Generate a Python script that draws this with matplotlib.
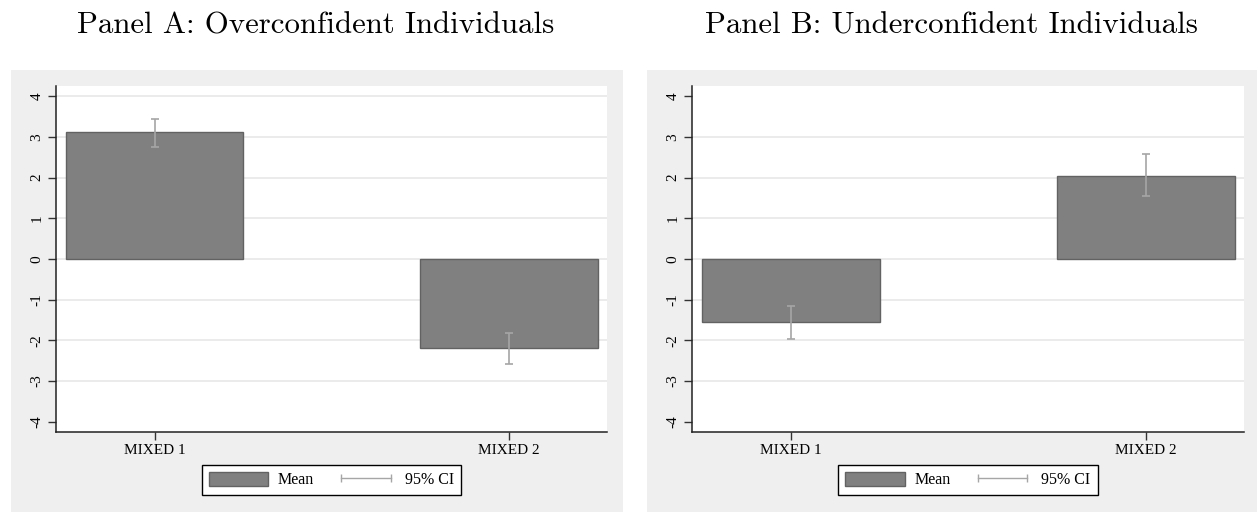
import matplotlib
matplotlib.use("Agg")
import matplotlib.pyplot as plt
from matplotlib.patches import Rectangle, Patch
from matplotlib.lines import Line2D

# data
groups = ["MIXED 1", "MIXED 2"]
means_a = [3.11, -2.19]
ci_low_a = [2.76, -2.58]
ci_high_a = [3.44, -1.81]
means_b = [-1.55, 2.04]
ci_low_b = [-1.97, 1.55]
ci_high_b = [-1.15, 2.57]
yticks = [-4, -3, -2, -1, 0, 1, 2, 3, 4]
titles = ["Panel A: Overconfident Individuals", "Panel B: Underconfident Individuals"]

W, H = 1257, 512
fig = plt.figure(figsize=(W / 100, H / 100), dpi=100)
bg = "#efefef"

# gray panel backgrounds
fig.patches.append(Rectangle((11 / W, 0), 612 / W, 442 / H, transform=fig.transFigure,
                             facecolor=bg, edgecolor="none", zorder=-5))
fig.patches.append(Rectangle((647 / W, 0), 610 / W, 442 / H, transform=fig.transFigure,
                             facecolor=bg, edgecolor="none", zorder=-5))

panels = [
    (56, 551, means_a, ci_low_a, ci_high_a, titles[0], 316, [-3, -2, -1, 0, 1, 2, 3, 4]),
    (692, 552, means_b, ci_low_b, ci_high_b, titles[1], 951, [-3, -2, -1, 0, 1, 2, 3]),
]

for left, width, means, lo, hi, title, tx, grid_at in panels:
    ax = fig.add_axes([left / W, 80 / H, width / W, 346 / H])
    ax.set_facecolor("white")
    x = [1, 2]
    ax.bar(x, means, width=0.5, color="#808080", edgecolor="#626262", linewidth=1.0, zorder=3)
    err = [[m - l for m, l in zip(means, lo)], [h - m for m, h in zip(means, hi)]]
    ax.errorbar(x, means, yerr=err, fmt="none", ecolor="#a6a6a6", elinewidth=1.2,
                capsize=2.6, capthick=1.2, zorder=4)
    for g in grid_at:
        ax.axhline(g, color="#e8e8e8", linewidth=1.2, zorder=1)
    ax.set_xlim(1 - 0.278, 2 + 0.276)
    ax.set_ylim(-4.25, 4.25)
    ax.set_yticks(yticks)
    ax.set_yticklabels([str(t) for t in yticks], rotation=90, va="center",
                       fontfamily="Liberation Serif", fontsize=11)
    ax.set_xticks(x)
    ax.set_xticklabels(groups, fontfamily="Liberation Serif", fontsize=11)
    ax.tick_params(length=6, width=1, color="#333333", pad=3)
    for s in ["top", "right"]:
        ax.spines[s].set_visible(False)
    for s in ["left", "bottom"]:
        ax.spines[s].set_color("#222222")
        ax.spines[s].set_linewidth(1.1)

    fig.text(tx / W, 1 - 33 / H, title, ha="center", va="baseline",
             fontfamily="cmr10", fontsize=22.2)

    handles = [Patch(facecolor="#808080", edgecolor="#626262"),
               Line2D([0], [0], color="#a6a6a6", linewidth=1.0, marker="|",
                      markersize=6, markeredgewidth=1.0)]
    leg = fig.legend(handles, ["Mean", "95% CI"], loc="center",
                     bbox_to_anchor=((left + width / 2) / W, 1 - 480 / H),
                     ncol=2, numpoints=2, frameon=True, fancybox=False, framealpha=1,
                     prop={"family": "Liberation Serif", "size": 11.5},
                     handlelength=3.7, handleheight=1.0, handletextpad=0.6,
                     columnspacing=1.4, borderpad=0.45, borderaxespad=0)
    leg.get_frame().set_edgecolor("black")
    leg.get_frame().set_facecolor("white")
    leg.get_frame().set_linewidth(1.0)

fig.savefig("out.png", dpi=100)
